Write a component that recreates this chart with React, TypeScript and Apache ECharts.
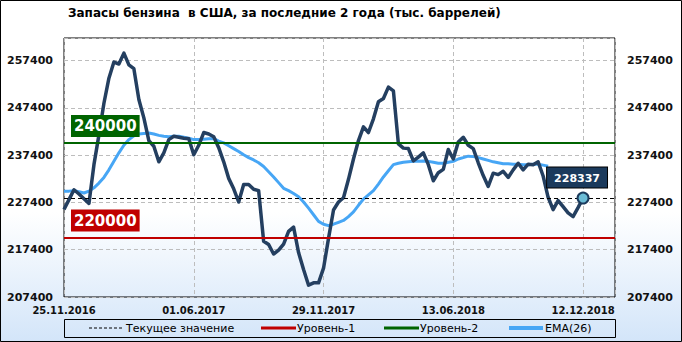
import React, { useEffect, useRef } from 'react';
import * as echarts from 'echarts';

const TITLE = 'Запасы бензина  в США, за последние 2 года (тыс. баррелей)';
const DATE_LABELS = ['25.11.2016', '01.06.2017', '29.11.2017', '13.06.2018', '12.12.2018'];
const LABEL_STEP = 26;
const Y_MIN = 207400;
const Y_MAX = 262200;
const Y_STEP = 10000;
const LEVEL_1 = 220000;
const LEVEL_2 = 240000;

const STOCKS = [
  225900, 228000, 230100, 229200, 228200, 227200, 235400, 241700, 248400, 253700,
  257100, 256700, 259000, 256500, 255700, 249200, 245300, 240500, 239300, 236000,
  237900, 240700, 241400, 241200, 241000, 240900, 237500, 239500, 242200, 241900,
  241300, 239000, 236000, 232500, 230300, 227500, 231200, 231200, 230200, 229900,
  219200, 218500, 216500, 217300, 218600, 221300, 222200, 216800, 213200, 209900,
  210400, 210400, 213500, 219800, 225800, 227500, 228400, 232300, 236600, 240500,
  243400, 242200, 245100, 248700, 249400, 251800, 251000, 239800, 238900, 238800,
  236200, 237000, 237900, 235400, 232000, 233700, 234400, 238600, 236600, 240200,
  241200, 239500, 238800, 235800, 233100, 230800, 233600, 233300, 234000, 232700,
  234300, 235700, 234300, 235500, 235400, 236000, 233000, 228500, 225900, 227800,
  226500, 225200, 224400, 226300, 228337,
];

const EMA26 = [
  229800, 229800, 229900, 229700, 229400, 229800, 230500, 231500, 232700, 234300,
  236100, 237900, 239500, 240700, 241500, 241900, 242000, 242100, 241900, 241600,
  241400, 241300, 241400, 241400, 241200, 241000, 240700, 240700, 240800, 240900,
  240900, 240400, 240000, 239400, 238800, 238200, 237500, 236900, 236400, 235800,
  235000, 233900, 232800, 231600, 230400, 229900, 229300, 228600, 227500, 226200,
  224800, 223400, 222800, 222500, 222800, 223200, 223600, 224400, 225400, 226800,
  228100, 229000, 229900, 231300, 232800, 234100, 235400, 235700, 235900, 236000,
  236100, 236100, 236200, 236100, 235900, 235700, 235700, 235900, 236100, 236600,
  236900, 237200, 237100, 236900, 236600, 236300, 236000, 235800, 235600, 235600,
  235500, 235500, 235400, 235400, 235500, 235500, 235300, 235050,
];

const LEGEND_NAMES = ['Текущее значение', 'Уровень-1', 'Уровень-2', 'EMA(26)'];

const FONT = 'DejaVu Sans';
const NAVY = '#243F60';
const EMA_COLOR = '#47A6F5';
const RED = '#C00000';
const GREEN = '#006400';

export default function App() {
  const ref = useRef<HTMLDivElement>(null);

  useEffect(() => {
    if (!ref.current) return;
    const chart = echarts.init(ref.current, undefined, { renderer: 'svg' });
    const lastIdx = STOCKS.length - 1;
    const lastVal = STOCKS[lastIdx];

    const yAxisBase = {
      type: 'value',
      min: Y_MIN,
      max: Y_MAX,
      interval: Y_STEP,
      axisLine: { show: false },
      axisTick: { show: false },
      axisLabel: {
        showMaxLabel: false,
        color: '#111',
        fontFamily: FONT,
        fontWeight: 'bold',
        fontSize: 11,
        formatter: (v: number) => String(v),
      },
    };

    const levelLabel = (value: number, color: string) => ({
      show: true,
      position: 'insideStartTop',
      distance: [7, 6],
      formatter: String(value),
      color: '#fff',
      backgroundColor: color,
      padding: [4, 3, 3, 3],
      fontFamily: FONT,
      fontWeight: 'bold',
      fontSize: 15,
    });

    const legendY = 328;
    const legendFont = `11px "${FONT}"`;
    const legendItems: any[] = [
      { type: 'line', shape: { x1: 89, y1: legendY, x2: 122, y2: legendY }, style: { stroke: '#000', lineWidth: 1, lineDash: [3, 2] } },
      { type: 'text', x: 126, y: legendY, style: { text: LEGEND_NAMES[0], fill: '#000', font: legendFont, textVerticalAlign: 'middle' } },
      { type: 'line', shape: { x1: 261, y1: legendY, x2: 296, y2: legendY }, style: { stroke: RED, lineWidth: 3 } },
      { type: 'text', x: 297, y: legendY, style: { text: LEGEND_NAMES[1], fill: '#000', font: legendFont, textVerticalAlign: 'middle' } },
      { type: 'line', shape: { x1: 384, y1: legendY, x2: 419, y2: legendY }, style: { stroke: GREEN, lineWidth: 3 } },
      { type: 'text', x: 420, y: legendY, style: { text: LEGEND_NAMES[2], fill: '#000', font: legendFont, textVerticalAlign: 'middle' } },
      { type: 'line', shape: { x1: 509, y1: legendY, x2: 543, y2: legendY }, style: { stroke: EMA_COLOR, lineWidth: 4 } },
      { type: 'text', x: 545, y: legendY, style: { text: LEGEND_NAMES[3], fill: '#000', font: legendFont, textVerticalAlign: 'middle' } },
    ];

    const option: any = {
      animation: false,
      backgroundColor: new echarts.graphic.LinearGradient(0, 0, 0, 1, [
        { offset: 0, color: '#FFFFFF' },
        { offset: 0.62, color: '#FFFFFF' },
        { offset: 1, color: '#D3E5F9' },
      ]),
      title: {
        text: TITLE,
        left: 63,
        top: 2,
        textStyle: { fontFamily: FONT, fontWeight: 'bold', fontSize: 12, color: '#000' },
      },
      grid: {
        left: 64,
        top: 38,
        width: 551,
        height: 259,
        show: true,
        borderColor: '#000',
        borderWidth: 1,
        backgroundColor: 'transparent',
      },
      xAxis: {
        type: 'value',
        min: 0,
        max: 110.4,
        interval: LABEL_STEP,
        axisLine: { show: false },
        axisTick: { show: false },
        splitLine: { show: true, lineStyle: { color: '#BDBDBD', type: [4, 3], width: 1 } },
        axisLabel: {
          showMaxLabel: false,
          margin: 8,
          color: '#111',
          fontFamily: FONT,
          fontWeight: 'bold',
          fontSize: 10,
          formatter: (v: number) => (v % LABEL_STEP === 0 ? DATE_LABELS[v / LABEL_STEP] ?? '' : ''),
        },
      },
      yAxis: [
        {
          ...yAxisBase,
          position: 'left',
          axisLabel: { ...yAxisBase.axisLabel, margin: 11 },
          splitLine: { show: true, lineStyle: { color: '#BDBDBD', type: [4, 3], width: 1 } },
        },
        {
          ...yAxisBase,
          position: 'right',
          axisLabel: { ...yAxisBase.axisLabel, margin: 12 },
          splitLine: { show: false },
        },
      ],
      series: [
        {
          name: 'levels',
          type: 'line',
          data: [],
          silent: true,
          markLine: {
            silent: true,
            symbol: 'none',
            animation: false,
            data: [
              { yAxis: LEVEL_1, lineStyle: { color: RED, width: 2, type: 'solid' }, label: levelLabel(LEVEL_1, RED) },
              { yAxis: LEVEL_2, lineStyle: { color: GREEN, width: 2, type: 'solid' }, label: levelLabel(LEVEL_2, GREEN) },
              { yAxis: lastVal, lineStyle: { color: '#000', width: 1, type: [4, 3] }, label: { show: false } },
            ],
          },
        },
        {
          name: LEGEND_NAMES[3],
          type: 'line',
          data: EMA26.map((v, i) => [i, v]),
          showSymbol: false,
          lineStyle: { color: EMA_COLOR, width: 3 },
          z: 3,
        },
        {
          name: 'Запасы',
          type: 'line',
          data: STOCKS.map((v, i) => [i, v]),
          showSymbol: false,
          lineStyle: { color: NAVY, width: 3.5, join: 'round' },
          z: 4,
        },
        {
          name: 'last',
          type: 'scatter',
          data: [[lastIdx, lastVal]],
          symbol: 'circle',
          symbolSize: 11,
          itemStyle: { color: '#6BBCD6', borderColor: '#1B3A5C', borderWidth: 2, opacity: 1 },
          z: 5,
          label: {
            show: true,
            position: 'top',
            distance: 4,
            offset: [-6, 0],
            formatter: String(lastVal),
            color: '#fff',
            backgroundColor: '#1B3A5C',
            borderColor: '#000',
            borderWidth: 1,
            opacity: 1,
            padding: [5, 7, 4, 7],
            fontFamily: FONT,
            fontWeight: 'bold',
            fontSize: 11,
          },
        },
      ],
      graphic: [
        {
          type: 'rect',
          shape: { x: 0.5, y: 0.5, width: 681, height: 341 },
          style: { fill: 'none', stroke: '#000', lineWidth: 1 },
          silent: true,
        },
        {
          type: 'rect',
          shape: { x: 64.5, y: 319.5, width: 551, height: 18 },
          style: { fill: 'none', stroke: '#000', lineWidth: 1 },
          silent: true,
        },
        ...legendItems,
      ],
    };

    chart.setOption(option);
    return () => chart.dispose();
  }, []);

  return (
    <div
      ref={ref}
      style={{ position: 'absolute', left: 0, top: 0, width: 682, height: 342 }}
    />
  );
}
